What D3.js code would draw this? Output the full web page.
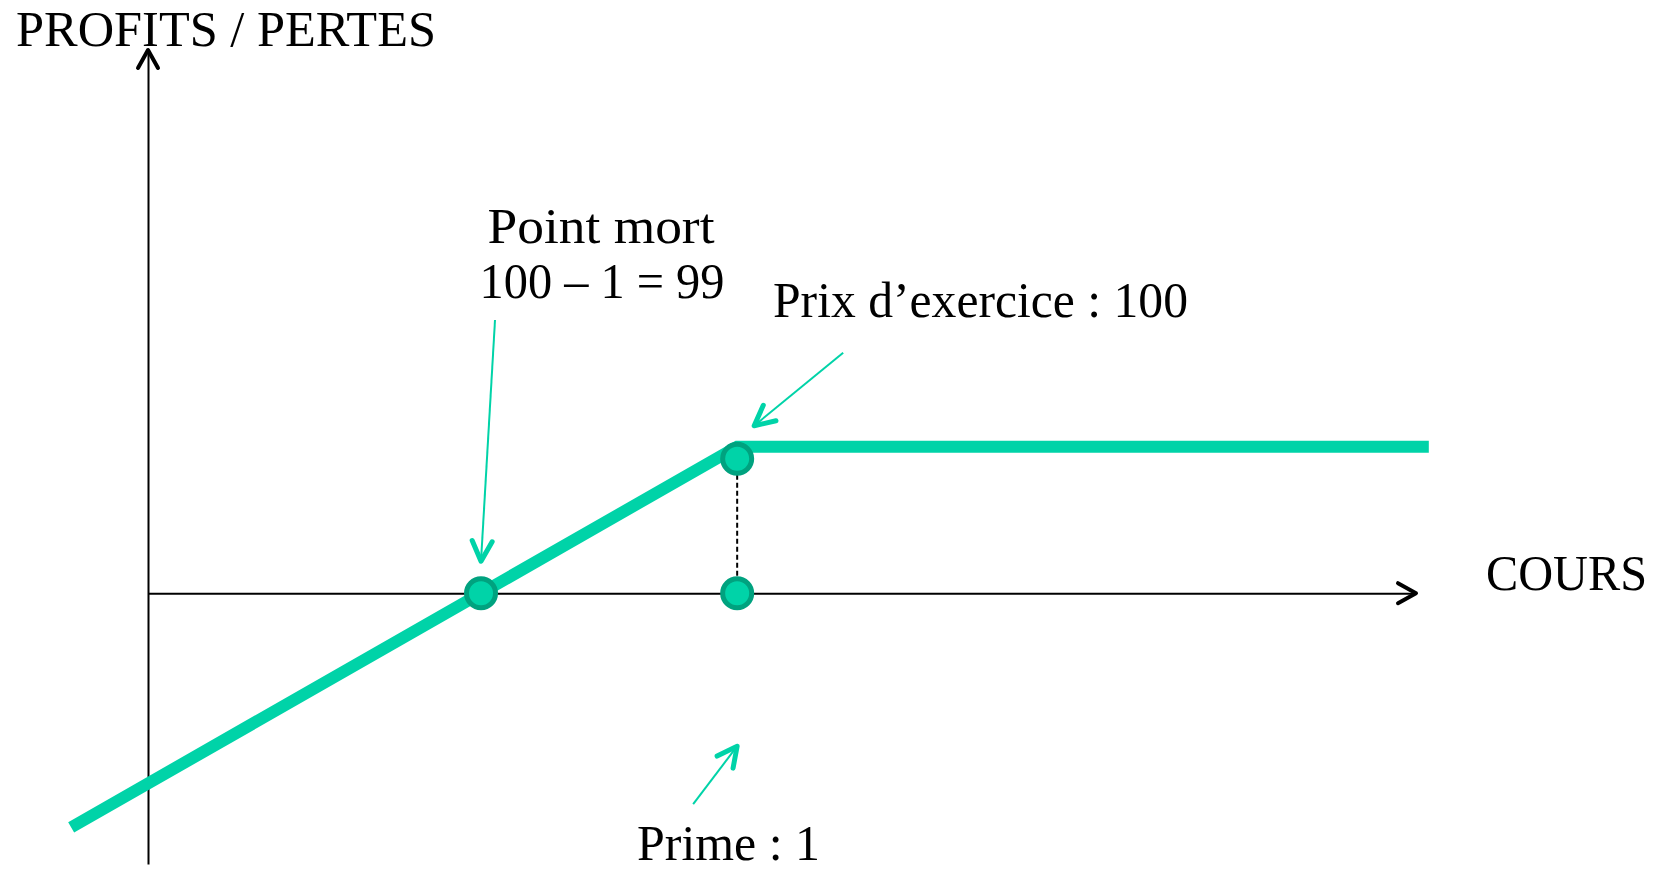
<!DOCTYPE html>
<html lang="fr">
<head>
<meta charset="utf-8">
<script src="https://cdn.jsdelivr.net/npm/d3@7"></script>
<style>
  html, body { margin: 0; padding: 0; background: #ffffff; }
  svg { display: block; }
  text { font-family: "Liberation Serif", "DejaVu Serif", serif; fill: #000; }
</style>
</head>
<body>
<svg id="chart" width="1661" height="869"></svg>
<script>
// Short put payoff: strike, premium, break-even
const strikePrice = 100;
const premium = 1;
const breakEven = 99;

// Payoff line vertices (price -> profit / loss)
const payoffPrices  = [97.4, 100, 102.7];
const payoffProfits = [-1.6, 1, 1];

// Highlighted points on the diagram
const markerPrices  = [99, 100, 100];
const markerProfits = [0, 0, 1];

// Text labels
const axisTitles = ["PROFITS / PERTES", "COURS"];
const breakEvenLabel = ["Point mort", "100 – 1 = 99"];
const strikeLabel = "Prix d’exercice : 100";
const premiumLabel = "Prime : 1";

const GREEN = "#00d3a8";
const GREEN_DARK = "#00a27f";

const svg = d3.select("#chart");

// Scales: price on x, profit on y
const x = d3.scaleLinear().domain([97.7, 102.65]).range([148, 1416]);
const y = d3.scaleLinear().domain([-1.85, 3.71]).range([864, 50]);

// Axes with no ticks, crossing at profit = 0 and at the left edge of the price range
const gx = svg.append("g")
  .attr("transform", `translate(0,${y(0)})`)
  .call(d3.axisBottom(x).tickValues([]).tickSizeOuter(0));
const gy = svg.append("g")
  .attr("transform", `translate(${x.range()[0]},0)`)
  .call(d3.axisLeft(y).tickValues([]).tickSizeOuter(0));
[gx, gy].forEach(g => g.select(".domain")
  .attr("stroke", "#000").attr("stroke-width", 2));

// Open chevron arrow head at (x2,y2) pointing along (x1,y1)->(x2,y2)
function chevron(g, x1, y1, x2, y2, len, half, color, width) {
  const a = Math.atan2(y2 - y1, x2 - x1);
  const bx = x2 - len * Math.cos(a), by = y2 - len * Math.sin(a);
  const px = -Math.sin(a) * half, py = Math.cos(a) * half;
  g.append("path")
    .attr("d", `M${bx + px},${by + py}L${x2},${y2}L${bx - px},${by - py}`)
    .attr("fill", "none").attr("stroke", color).attr("stroke-width", width)
    .attr("stroke-linecap", "round").attr("stroke-linejoin", "round");
}

const [x0, x1] = x.range();
const [yb, yt] = y.range();
chevron(svg, x0, yb, x0, yt, 18, 10, "#000", 4);
chevron(svg, x0, y(0), x1, y(0), 18, 10, "#000", 4);

// Dashed guide from the strike marker down to the price axis
const markerDrop = 12;
svg.append("line")
  .attr("x1", x(strikePrice)).attr("x2", x(strikePrice))
  .attr("y1", y(premium) + markerDrop + 16).attr("y2", y(0) - 16)
  .attr("stroke", "#000").attr("stroke-width", 2).attr("stroke-dasharray", "5,3");

// Payoff line
const payoff = payoffPrices.map((p, i) => [p, payoffProfits[i]]);
svg.append("path")
  .datum(payoff)
  .attr("d", d3.line().x(d => x(d[0])).y(d => y(d[1])))
  .attr("fill", "none").attr("stroke", GREEN).attr("stroke-width", 12)
  .attr("stroke-linejoin", "miter");

// Markers
const markers = markerPrices.map((p, i) => ({ price: p, profit: markerProfits[i] }));
svg.append("g").selectAll("circle")
  .data(markers)
  .join("circle")
  .attr("cx", d => x(d.price))
  .attr("cy", d => y(d.profit) + (d.profit > 0 ? markerDrop : 0))
  .attr("r", 14.5)
  .attr("fill", GREEN).attr("stroke", GREEN_DARK).attr("stroke-width", 5);

// Annotation arrows
const ann = svg.append("g");
function annotate(tx, ty, hx, hy) {
  ann.append("line").attr("x1", tx).attr("y1", ty).attr("x2", hx).attr("y2", hy)
    .attr("stroke", GREEN).attr("stroke-width", 2);
  chevron(ann, tx, ty, hx, hy, 20, 10, GREEN, 5);
}
const bx = x(breakEven), by = y(0);
annotate(bx + 14, 320, bx, by - 32);
const sx = x(strikePrice), sy = y(premium);
annotate(sx + 106, sy - 94, sx + 17, sy - 21);
annotate(sx - 44, by + 211, sx, by + 153);

// Labels
svg.append("text").attr("x", 16).attr("y", 46)
  .attr("font-size", 50).attr("textLength", 420).attr("lengthAdjust", "spacingAndGlyphs")
  .text(axisTitles[0]);
svg.append("text").attr("x", 1486).attr("y", 590)
  .attr("font-size", 50).attr("textLength", 161).attr("lengthAdjust", "spacingAndGlyphs")
  .text(axisTitles[1]);

svg.append("text").attr("x", 601).attr("y", 243).attr("text-anchor", "middle")
  .attr("font-size", 50).attr("textLength", 227).attr("lengthAdjust", "spacingAndGlyphs")
  .text(breakEvenLabel[0]);
svg.append("text").attr("x", 602).attr("y", 298).attr("text-anchor", "middle")
  .attr("font-size", 50).attr("textLength", 245).attr("lengthAdjust", "spacingAndGlyphs")
  .text(breakEvenLabel[1]);

svg.append("text").attr("x", 773).attr("y", 317)
  .attr("font-size", 50).attr("textLength", 415).attr("lengthAdjust", "spacingAndGlyphs")
  .text(strikeLabel);
svg.append("text").attr("x", 637).attr("y", 860)
  .attr("font-size", 50).attr("textLength", 183).attr("lengthAdjust", "spacingAndGlyphs")
  .text(premiumLabel);
</script>
</body>
</html>
